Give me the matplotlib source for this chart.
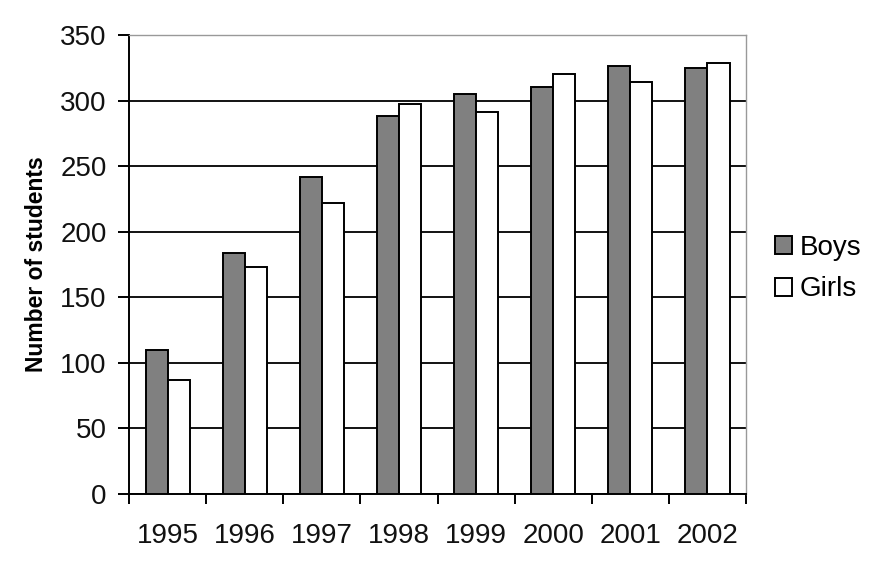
import matplotlib
matplotlib.use("Agg")
import matplotlib.pyplot as plt
import numpy as np
from matplotlib.patches import Patch

years = ["1995", "1996", "1997", "1998", "1999", "2000", "2001", "2002"]
boys = [110, 184, 242, 288, 305, 310, 326, 325]
girls = [87, 173, 222, 297, 291, 320, 314, 329]
y_ticks = [0, 50, 100, 150, 200, 250, 300, 350]

plt.rcParams["font.family"] = ["Liberation Sans", "DejaVu Sans"]

fig = plt.figure(figsize=(8.79, 5.66), dpi=100)
ax = fig.add_axes([0.1468, 0.1272, 0.7019, 0.811])

x = np.arange(len(years))
w = 0.286
ax.bar(x - w / 2, boys, width=w, color="#808080", edgecolor="black", linewidth=1.4, zorder=3)
ax.bar(x + w / 2, girls, width=w, color="white", edgecolor="black", linewidth=1.4, zorder=3)

ax.set_xlim(-0.5, len(years) - 0.5)
ax.set_ylim(0, 350)
ax.set_yticks(y_ticks)
ax.yaxis.grid(True, color="black", linewidth=1.3, zorder=0)
ax.set_axisbelow(True)

# ticks at category boundaries, labels at centres
ax.set_xticks(np.arange(len(years) + 1) - 0.5)
ax.set_xticklabels([])
ax.set_xticks(x, minor=True)
ax.set_xticklabels(years, minor=True, fontsize=20, color="#111111")
ax.tick_params(axis="x", which="major", length=7, width=1.4, direction="out")
ax.tick_params(axis="x", which="minor", length=0, pad=21)
ax.tick_params(axis="y", length=8, width=1.4, labelsize=20, labelcolor="#111111", pad=8)

for s in ["left", "bottom"]:
    ax.spines[s].set_linewidth(1.4)
    ax.spines[s].set_color("black")
for s in ["top", "right"]:
    ax.spines[s].set_linewidth(1.0)
    ax.spines[s].set_color("#999999")

ax.set_ylabel("Number of students", fontsize=16.5, fontweight="bold", labelpad=9)

handles = [Patch(facecolor="#808080", edgecolor="black", linewidth=1.4, label="Boys"),
           Patch(facecolor="white", edgecolor="black", linewidth=1.4, label="Girls")]
fig.legend(handles=handles, loc="center left", bbox_to_anchor=(0.866, 0.525),
           frameon=False, fontsize=20, handlelength=0.62, handleheight=0.62,
           handletextpad=0.25, labelspacing=0.55, borderpad=0)

fig.savefig("out.png", dpi=100)
